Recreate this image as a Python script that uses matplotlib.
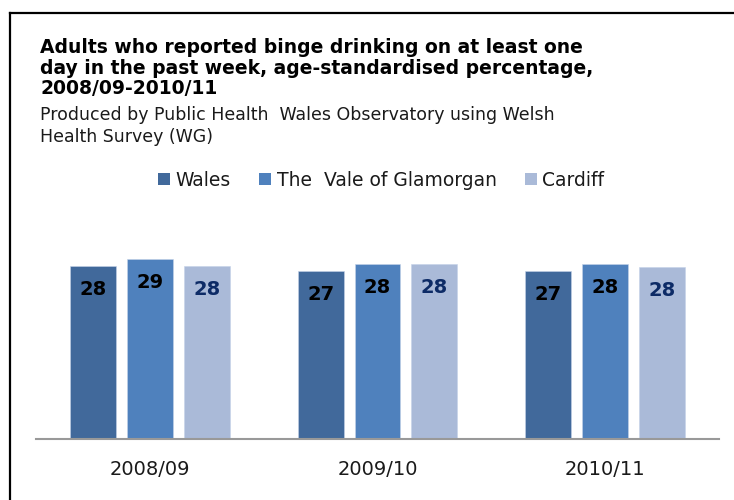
import matplotlib.pyplot as plt
from matplotlib.lines import Line2D
from matplotlib.patches import Patch

# Data
periods = ["2008/09", "2009/10", "2010/11"]
series_names = ["Wales", "The  Vale of Glamorgan", "Cardiff"]
wales = [27.9, 27.1, 27.1]
vale = [29.0, 28.2, 28.2]
cardiff = [27.9, 28.2, 27.7]
shown_labels = [[28, 27, 27], [29, 28, 28], [28, 28, 28]]

bar_colors = ["#41699b", "#4f81bd", "#aabad8"]
label_colors = ["#000000", "#000000", "#0d2b66"]

plt.rcParams["font.family"] = "DejaVu Sans"

fig = plt.figure(figsize=(7.34, 5.0), dpi=100)
ax = fig.add_axes([36 / 734, 1 - 439 / 500, 683 / 734, 239 / 500])

x = list(range(len(periods)))
offsets = [-0.25, 0.0, 0.25]
for i, values in enumerate([wales, vale, cardiff]):
    xs = [p + offsets[i] for p in x]
    ax.bar(xs, values, width=0.202, color=bar_colors[i],
           edgecolor="#c5d3e8", linewidth=0.4, zorder=2)
    for xi, v, lab in zip(xs, values, shown_labels[i]):
        ax.annotate(str(lab), (xi, v), xytext=(0, -17),
                    textcoords="offset points", ha="center", va="center",
                    fontsize=14, fontweight="bold", color=label_colors[i])

ax.set_xlim(-0.5, 2.5)
ax.set_ylim(0, 38.5)
ax.set_xticks(x)
ax.set_xticklabels(periods, fontsize=14, color="#1a1a1a")
ax.set_yticks([])
ax.tick_params(axis="x", length=0, pad=15)
for side in ["top", "right", "left"]:
    ax.spines[side].set_visible(False)
ax.spines["bottom"].set_color("#999999")
ax.spines["bottom"].set_linewidth(1.5)

# legend with square handles
handles = [Patch(facecolor=c, edgecolor="none") for c in bar_colors]
fig.legend(handles, series_names, loc="center", bbox_to_anchor=(381 / 734, 1 - 180 / 500),
           ncol=3, frameon=False, fontsize=13.5, handlelength=0.65, handleheight=0.65,
           handletextpad=0.3, columnspacing=1.5, labelcolor="#1a1a1a")

# title and subtitle
fig.text(40 / 734, 1 - 38 / 500,
         "Adults who reported binge drinking on at least one\n"
         "day in the past week, age-standardised percentage,\n"
         "2008/09-2010/11",
         fontsize=13.5, fontweight="bold", va="top", ha="left", linespacing=1.1)
fig.text(40 / 734, 1 - 106 / 500,
         "Produced by Public Health  Wales Observatory using Welsh\n"
         "Health Survey (WG)",
         fontsize=12.5, va="top", ha="left", color="#1a1a1a", linespacing=1.25)

# black frame lines on top and left
fig.add_artist(Line2D([10 / 734, 10 / 734], [0, 1 - 13 / 500], color="black",
                      linewidth=1.6, transform=fig.transFigure))
fig.add_artist(Line2D([10 / 734, 1], [1 - 13 / 500, 1 - 13 / 500], color="black",
                      linewidth=1.6, transform=fig.transFigure))

fig.savefig("out.png", dpi=100)
